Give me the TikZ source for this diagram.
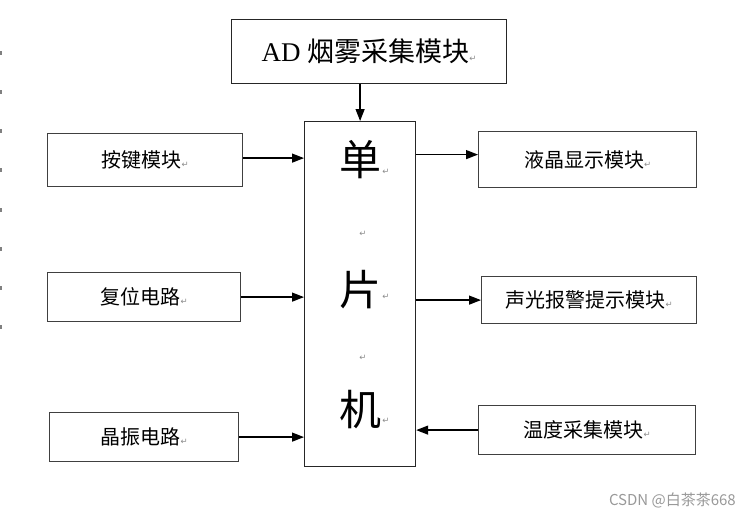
\documentclass[tikz,border=0pt]{standalone}
\usepackage{fontspec}
\setmainfont{Liberation Serif}
\newfontfamily\cjk{Noto Sans CJK SC}
\newfontfamily\symf{DejaVu Sans}
\usetikzlibrary{arrows.meta,calc}
\newcommand{\retmark}{{\symf\fontsize{8.5}{8.5}\selectfont\color{black!45}↵}}
\tikzset{
  blk/.style={draw=black!75, line width=1.2pt, inner sep=0pt, anchor=north west, fill=white},
  side/.style={font=\fontsize{20}{20}\selectfont\cjk},
  arr/.style={line width=1.3pt, -{Triangle[length=12pt,width=9pt]}},
  big/.style={font=\fontsize{42}{42}\selectfont\cjk, inner sep=0pt},
  rm/.style={inner sep=0pt}
}
\begin{document}
\begin{tikzpicture}[x=1pt,y=-1pt]
\useasboundingbox[fill=white] (0,0) rectangle (750,520);
% left margin ticks
\foreach \t in {53,92,131,170,210,249,288,327}
  \fill[black!50] (0,\t-2) rectangle (2,\t+2);
% top module
\node[blk, draw=black!85, minimum width=275pt, minimum height=64pt] (ad) at (231,19)
  {\fontsize{27}{27}\selectfont AD {\cjk 烟雾采集模块}\retmark};
% MCU
\node[blk, draw=black!85, minimum width=111pt, minimum height=345pt] (mcu) at (304,121) {};
\node[big] (c1) at (360,160) {单};
\node[big] (c2) at (360,290) {片};
\node[big] (c3) at (360,410) {机};
\node[rm] (r1) at (386,172) {\retmark};
\node[rm] (r2) at (363,234) {\retmark};
\node[rm] (r3) at (386,297) {\retmark};
\node[rm] (r4) at (363,358) {\retmark};
\node[rm] (r5) at (386,421) {\retmark};
% left modules
\node[blk, side, minimum width=195pt, minimum height=53pt] (key) at (47,133) {按键模块\retmark};
\node[blk, side, minimum width=193pt, minimum height=49pt] (rst) at (47,272) {复位电路\retmark};
\node[blk, side, minimum width=189pt, minimum height=49pt] (osc) at (49,412) {晶振电路\retmark};
% right modules
\node[blk, side, minimum width=218pt, minimum height=56pt] (lcd) at (478,131) {液晶显示模块\retmark};
\node[blk, side, minimum width=215pt, minimum height=47pt] (alm) at (481,276) {声光报警提示模块\retmark};
\node[blk, side, minimum width=217pt, minimum height=49pt] (tmp) at (478,405) {温度采集模块\retmark};
% connectors
\draw[arr] (ad.south -| mcu) -- (mcu.north);
\draw[arr] ($(key.east)+(0,-2)$) -- ($(key.east -| mcu.west)+(0,-2)$);
\draw[arr] (rst.east) -- (rst.east -| mcu.west);
\draw[arr] (osc.east) -- (osc.east -| mcu.west);
\draw[arr] ($(lcd.west -| mcu.east)+(0,-5)$) -- ($(lcd.west)+(0,-5)$);
\draw[arr] (alm.west -| mcu.east) -- (alm.west);
\draw[arr] (tmp.west) -- (tmp.west -| mcu.east);
% watermark
\node[anchor=east, text=black!40, inner sep=0pt, font=\fontsize{15}{15}\selectfont\cjk] (wm) at (736,500) {CSDN @白茶茶668};
\end{tikzpicture}
\end{document}
